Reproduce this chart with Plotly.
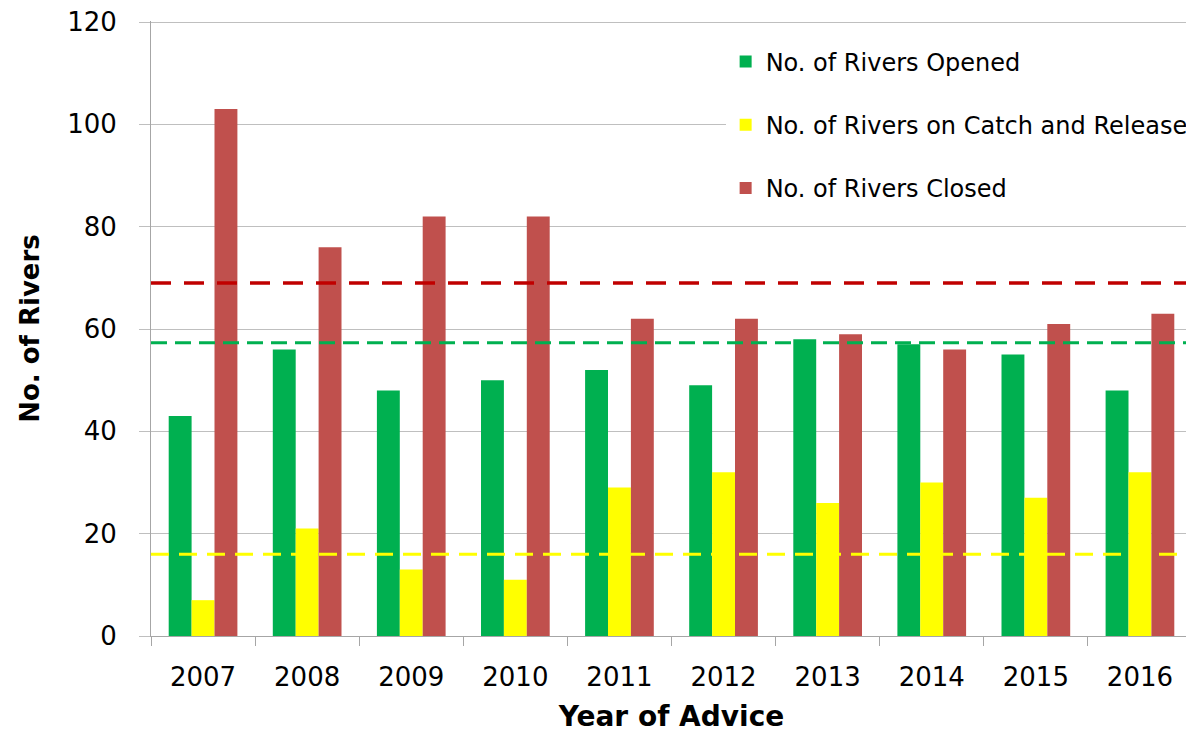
import plotly.graph_objects as go

years = ["2007", "2008", "2009", "2010", "2011", "2012", "2013", "2014", "2015", "2016"]
opened = [43, 56, 48, 50, 52, 49, 58, 57, 55, 48]
catch_release = [7, 21, 13, 11, 29, 32, 26, 30, 27, 32]
closed = [103, 76, 82, 82, 62, 62, 59, 56, 61, 63]

avg_closed = 69
avg_opened = 57.3
avg_catch = 16

series_names = ["No. of Rivers Opened", "No. of Rivers on Catch and Release", "No. of Rivers Closed"]
colors = ["#00b050", "#ffff00", "#c0504d"]

fig = go.Figure()
for i, (name, vals, col) in enumerate(zip(series_names, [opened, catch_release, closed], colors)):
    fig.add_trace(go.Bar(x=years, y=vals, name=name, marker_color=col,
                         marker_line_width=0, legendgroup=f"g{i}"))

for val, col, dash, w in [(avg_closed, "#c00000", "20px,13px", 3.5),
                          (avg_opened, "#00b050", "16px,8px", 3),
                          (avg_catch, "#ffff00", "18px,10px", 3)]:
    fig.add_shape(type="line", xref="x domain", yref="y", x0=0, x1=1, y0=val, y1=val,
                  line=dict(color=col, width=w, dash=dash), layer="above")

fig.update_layout(
    width=1186, height=725,
    margin=dict(l=143, r=2, t=13, b=97, autoexpand=False),
    paper_bgcolor="white", plot_bgcolor="white",
    barmode="group", bargap=0.34, bargroupgap=0,
    font=dict(family="DejaVu Sans", color="#000000"),
    showlegend=True,
    legend=dict(x=0.552, y=0.97, xanchor="left", yanchor="top",
                bgcolor="white", font=dict(size=24, family="DejaVu Sans"),
                tracegroupgap=29, traceorder="grouped", itemwidth=30),
)
fig.update_yaxes(range=[0, 120.2], tickvals=[0, 20, 40, 60, 80, 100, 120],
                 showgrid=True, gridcolor="#bfbfbf", gridwidth=1,
                 showline=True, linecolor="#a6a6a6", linewidth=1, automargin=False,
                 ticks="outside", ticklen=11, tickcolor="#bfbfbf", ticklabeloverflow="allow",
                 tickfont=dict(size=26, family="DejaVu Sans"), ticklabelstandoff=17,
                 zeroline=False,
                 title=dict(text="<b>No. of Rivers</b>", font=dict(size=26, family="DejaVu Sans"), standoff=20))
fig.update_xaxes(showline=True, linecolor="#a6a6a6", linewidth=1, automargin=False,
                 ticks="outside", ticklen=9, tickcolor="#a6a6a6", tickson="boundaries",
                 tickfont=dict(size=26, family="DejaVu Sans"), ticklabelstandoff=18,
                 title=dict(text="<b>Year of Advice</b>", font=dict(size=28, family="DejaVu Sans"), standoff=28))

fig.write_html("out.html")
